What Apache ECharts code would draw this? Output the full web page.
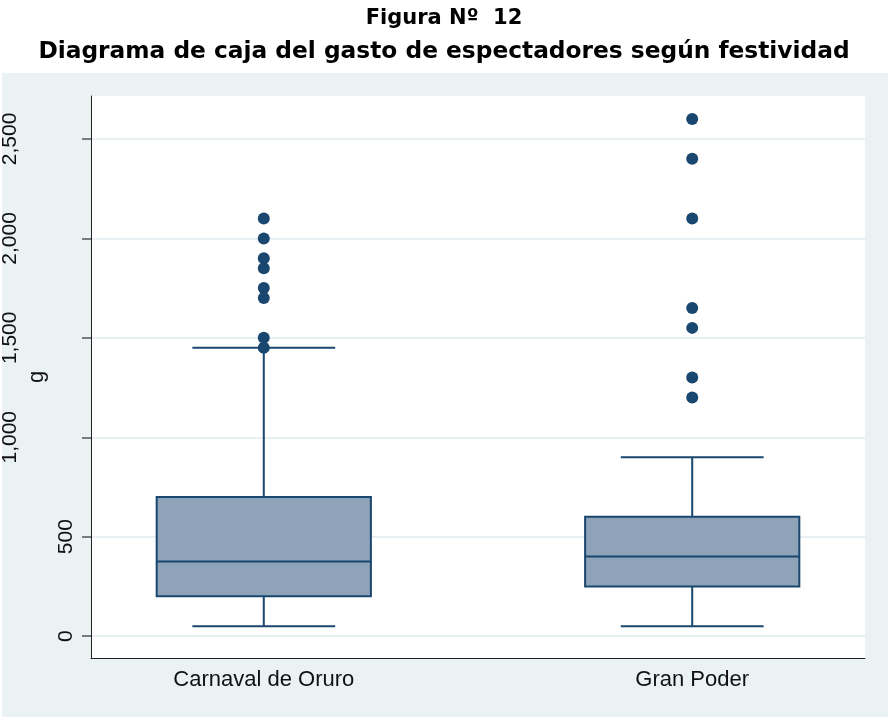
<!DOCTYPE html>
<html>
<head>
<meta charset="utf-8">
<script src="https://cdn.jsdelivr.net/npm/echarts@6/dist/echarts.min.js"></script>
<style>
  html, body { margin: 0; padding: 0; background: #fff; }
  #chart { width: 888px; height: 717px; }
</style>
</head>
<body>
<div id="chart"></div>
<script>
// festividades
var categories = ['Carnaval de Oruro', 'Gran Poder'];
// resumen de cada caja (bigote inferior, Q1, mediana, Q3, bigote superior)
var lowWhisker = [50, 50];
var q1 = [200, 250];
var median = [375, 400];
var q3 = [700, 600];
var highWhisker = [1450, 900];
// valores atipicos
var carnavalOutliers = [2100, 2000, 1900, 1850, 1750, 1700, 1500, 1450];
var granPoderOutliers = [2600, 2400, 2100, 1650, 1550, 1300, 1200];
// marcas del eje y
var yTicks = [0, 500, 1000, 1500, 2000, 2500];

var navy = '#1a476f';
var axisFont = 'Liberation Sans, Arial, sans-serif';

var boxData = [];
for (var i = 0; i < categories.length; i++) {
  boxData.push([i + 1, lowWhisker[i], q1[i], median[i], q3[i], highWhisker[i]]);
}
var outlierData = [];
carnavalOutliers.forEach(function (v) { outlierData.push([1, v]); });
granPoderOutliers.forEach(function (v) { outlierData.push([2, v]); });

function fmt(v) {
  return String(v).replace(/\B(?=(\d{3})+(?!\d))/g, ',');
}

function renderBox(params, api) {
  var x = api.value(0);
  var lo = api.value(1), b = api.value(2), m = api.value(3), t = api.value(4), hi = api.value(5);
  var half = 0.25, cap = 1 / 6;
  var tl = api.coord([x - half, t]);
  var br = api.coord([x + half, b]);
  var lineStyle = { stroke: navy, lineWidth: 2, fill: null };
  function seg(p1, p2) {
    return { type: 'line', shape: { x1: p1[0], y1: p1[1], x2: p2[0], y2: p2[1] }, style: lineStyle };
  }
  return {
    type: 'group',
    children: [
      seg(api.coord([x, t]), api.coord([x, hi])),
      seg(api.coord([x, b]), api.coord([x, lo])),
      seg(api.coord([x - cap, hi]), api.coord([x + cap, hi])),
      seg(api.coord([x - cap, lo]), api.coord([x + cap, lo])),
      {
        type: 'rect',
        shape: { x: tl[0], y: tl[1], width: br[0] - tl[0], height: br[1] - tl[1] },
        style: { fill: '#8ea3b8', stroke: navy, lineWidth: 2 }
      },
      seg(api.coord([x - half, m]), api.coord([x + half, m]))
    ]
  };
}

var chart = echarts.init(document.getElementById('chart'));
var option = {
  backgroundColor: '#eaf2f3',
  animation: false,
  graphic: [
    { type: 'rect', left: 0, top: 0, shape: { width: 888, height: 73 }, style: { fill: '#fff' }, z: -1 },
    { type: 'rect', left: 0, top: 0, shape: { width: 2, height: 717 }, style: { fill: '#fff' }, z: -1 }
  ],
  title: [{
    text: 'Figura Nº  12',
    left: 'center',
    top: 3,
    textStyle: { fontFamily: 'DejaVu Sans, sans-serif', fontWeight: 'bold', fontSize: 21, color: '#000' }
  }, {
    text: 'Diagrama de caja del gasto de espectadores según festividad',
    left: 'center',
    top: 35,
    textStyle: { fontFamily: 'DejaVu Sans, sans-serif', fontWeight: 'bold', fontSize: 23.3, color: '#000' }
  }],
  grid: {
    left: 90, right: 23, top: 96, bottom: 59,
    show: true,
    backgroundColor: '#fff',
    borderWidth: 0
  },
  xAxis: {
    type: 'value',
    min: 0.5967,
    max: 2.4033,
    axisLine: { show: true, onZero: false, lineStyle: { color: '#222', width: 1 } },
    axisTick: { show: false },
    splitLine: { show: false },
    axisLabel: {
      customValues: [1, 2],
      formatter: function (v) { return categories[Math.round(v) - 1]; },
      margin: 11,
      fontSize: 22,
      fontFamily: axisFont,
      color: '#111'
    }
  },
  yAxis: [{
    type: 'value',
    min: -110,
    max: 2716,
    name: 'g',
    nameLocation: 'middle',
    nameGap: 36,
    nameTextStyle: { fontSize: 22, fontFamily: axisFont, color: '#111' },
    axisLine: { show: true, lineStyle: { color: '#222', width: 1 } },
    axisTick: { show: true, length: 9, customValues: yTicks, lineStyle: { color: '#555', width: 1.5 } },
    splitLine: { show: true, lineStyle: { color: '#e8eff2', width: 2 } },
    axisLabel: {
      customValues: [0, 500],
      rotate: 90,
      margin: 14,
      fontSize: 21,
      fontFamily: axisFont,
      color: '#111',
      formatter: fmt
    }
  }, {
    type: 'value',
    min: -110,
    max: 2716,
    position: 'left',
    axisLine: { show: false },
    axisTick: { show: false },
    splitLine: { show: false },
    axisLabel: {
      customValues: [1000, 1500, 2000, 2500],
      rotate: 90,
      margin: 70,
      fontSize: 21,
      fontFamily: axisFont,
      color: '#111',
      formatter: fmt
    }
  }],
  series: [{
    type: 'custom',
    name: 'caja',
    renderItem: renderBox,
    encode: { x: 0, y: [1, 2, 3, 4, 5] },
    data: boxData,
    z: 2
  }, {
    type: 'scatter',
    name: 'atipicos',
    data: outlierData,
    symbol: 'circle',
    symbolSize: 12,
    itemStyle: { color: navy, opacity: 1 },
    z: 3
  }]
};
chart.setOption(option);
</script>
</body>
</html>
